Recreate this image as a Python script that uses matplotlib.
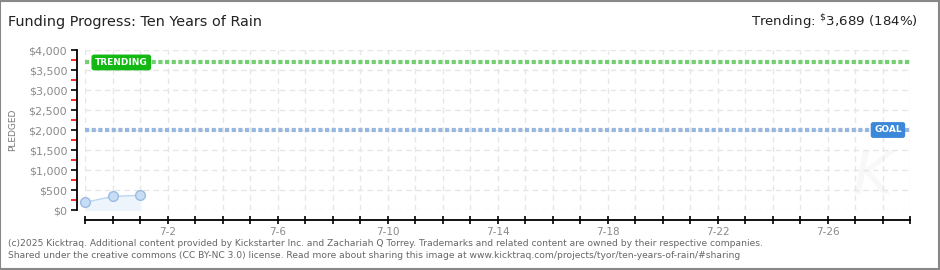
import matplotlib
matplotlib.use("Agg")
from matplotlib import pyplot as plt
import matplotlib.dates as mdates
from matplotlib.patches import Rectangle
import numpy as np
import pandas as pd

# pledged so far
dates = pd.to_datetime(["2025-06-29", "2025-06-30", "2025-07-01"])
pledged = [190, 340, 368]

goal = 2000
trending = 3689
trending_pct = 184
x_start, x_end = pd.Timestamp("2025-06-29"), pd.Timestamp("2025-07-29")
yticks = [0, 500, 1000, 1500, 2000, 2500, 3000, 3500, 4000]
label_days = [2, 6, 10, 14, 18, 22, 26]

gray = "#8a8a8a"

fig = plt.figure(figsize=(9.4, 2.7), dpi=100)
ax = fig.add_axes([85/940, 60/270, 825/940, 160/270])

# grid
ax.set_xlim(x_start, x_end)
ax.set_ylim(0, 4000)
ax.xaxis.set_major_locator(mdates.DayLocator(bymonthday=label_days))
ax.xaxis.set_minor_locator(mdates.DayLocator())
ax.xaxis.set_major_formatter(mdates.DateFormatter("%-m-%-d"))
ax.set_yticks(yticks)
ax.set_yticks([v + 250 for v in yticks[:-1]], minor=True)
ax.set_yticklabels(["$" + f"{v:,}" for v in yticks])
ax.grid(True, which="both", axis="x", color="#e6e6e6", ls=(0, (4, 3)), lw=1)
ax.grid(True, which="major", axis="y", color="#e6e6e6", ls=(0, (4, 3)), lw=1)

for s in ["top", "right"]:
    ax.spines[s].set_visible(False)
ax.spines["left"].set_position(("outward", 5.8))
ax.spines["bottom"].set_position(("outward", 7.2))
ax.spines["left"].set_linewidth(1.3)
ax.spines["bottom"].set_linewidth(1.3)
ax.tick_params(axis="y", which="major", length=4, width=1.2, colors="black",
               labelcolor=gray, labelsize=8, pad=3)
ax.tick_params(axis="y", which="minor", length=4, width=1.2, colors="red")
ax.tick_params(axis="x", which="both", direction="inout", length=6, width=1.2,
               colors="black", labelcolor=gray, labelsize=7.5, pad=2)
ax.set_ylabel("PLEDGED", color="#777777", fontsize=6.5, labelpad=8)

# goal / trending lines
ax.axhline(trending, color="#72d072", lw=3, ls=(0, (1, 0.6)))
ax.axhline(goal, color="#98b7de", lw=3, ls=(0, (1, 0.6)))
trans = ax.get_yaxis_transform()
ax.text(0.012, trending, "TRENDING", transform=trans, color="white", fontsize=6.5,
        fontweight="bold", va="center", ha="left",
        bbox=dict(boxstyle="round,pad=0.3,rounding_size=0.2", fc="#13b913", ec="#13b913"))
ax.text(0.99, goal, "GOAL", transform=trans, color="white", fontsize=6.5,
        fontweight="bold", va="center", ha="right",
        bbox=dict(boxstyle="round,pad=0.3,rounding_size=0.2", fc="#3b87d9", ec="#3b87d9"))

# pledged series
ax.fill_between(dates, pledged, 0, color="#edf4fc", zorder=2)
ax.plot(dates, pledged, color="#bcd6f1", lw=1, zorder=3)
ax.plot(dates, pledged, "o", ms=7, mfc="#c6ddf6", mec="#9dbbe0", mew=1, zorder=4, clip_on=False)

# faint watermark
ax.text(0.955, 0.2, "K", transform=ax.transAxes, fontsize=44, color="#f8f8f8",
        style="italic", ha="center", va="center", zorder=0)

fig.text(8/940, 1 - 22/270, "Funding Progress: Ten Years of Rain", fontsize=10.4,
         va="center", ha="left", color="#222222")
fig.text(918/940, 1 - 22/270, r"Trending: $^{\$}$" + f"{trending:,} ({trending_pct}%)",
         fontsize=9.6, va="center", ha="right", color="#222222")
fig.text(8/940, 1 - 243/270,
         "(c)2025 Kicktraq. Additional content provided by Kickstarter Inc. and Zachariah Q Torrey. "
         "Trademarks and related content are owned by their respective companies.",
         fontsize=6.6, color="#666666", va="center", ha="left")
fig.text(8/940, 1 - 256/270,
         "Shared under the creative commons (CC BY-NC 3.0) license. Read more about sharing this image at "
         "www.kicktraq.com/projects/tyor/ten-years-of-rain/#sharing",
         fontsize=6.6, color="#666666", va="center", ha="left")

fig.patches.append(Rectangle((0.0005, 0.002), 0.998, 0.996, transform=fig.transFigure,
                             fill=False, ec="#888888", lw=1.5))

fig.savefig("out.png", dpi=100)
